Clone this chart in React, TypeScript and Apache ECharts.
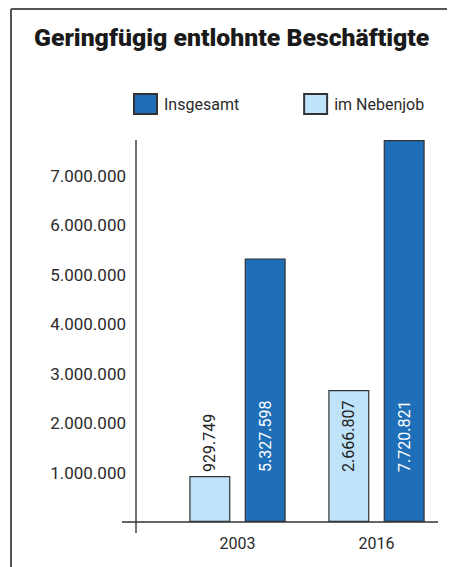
import React, { useEffect, useRef } from "react";
import * as echarts from "echarts";

const categories = ["2003", "2016"];
const nebenjobValues = [929749, 2666807];
const insgesamtValues = [5327598, 7720821];
const seriesNames = ["Insgesamt", "im Nebenjob"];
const titleText = "Geringfügig entlohnte Beschäftigte";

const fmt = (v: number) => String(Math.round(v)).replace(/\B(?=(\d{3})+(?!\d))/g, ".");

export default function App() {
  const ref = useRef<HTMLDivElement>(null);
  useEffect(() => {
    if (!ref.current) return;
    const chart = echarts.init(ref.current, null, { renderer: "svg" });
    const font = "Roboto";
    const barLabel = (color: string) => ({
      show: true,
      position: "insideBottom",
      distance: 50,
      rotate: 90,
      align: "left",
      verticalAlign: "middle",
      color,
      fontSize: 16,
      fontFamily: font,
      formatter: (p: any) => fmt(p.value),
    });
    chart.setOption({
      animation: false,
      title: {
        text: titleText,
        left: 34,
        top: 25,
        padding: 0,
        textStyle: { fontSize: 24.8, fontWeight: 900, fontFamily: font, color: "#1a1a1a" },
      },
      legend: {
        data: seriesNames,
        left: 133,
        top: 93,
        padding: 0,
        itemWidth: 23,
        itemHeight: 20,
        itemGap: 64,
        icon: "rect",
        textStyle: { fontSize: 16, fontFamily: font, color: "#2b2b2b", padding: [0, 0, 0, 2] },
      },
      grid: { left: 168, right: 3, top: 140, bottom: 45 },
      xAxis: {
        type: "category",
        data: categories,
        axisLine: { show: false },
        axisTick: { show: false },
        axisLabel: { margin: 13, fontSize: 16, fontFamily: font, color: "#2b2b2b" },
      },
      yAxis: {
        type: "value",
        min: 0,
        max: "dataMax",
        interval: 1000000,
        offset: 32,
        axisLine: { show: false },
        axisTick: { show: false },
        splitLine: { show: false },
        axisLabel: {
          margin: 10,
          showMinLabel: false,
          showMaxLabel: false,
          fontSize: 17,
          fontFamily: font,
          color: "#2b2b2b",
          formatter: (v: number) => fmt(v),
        },
      },
      series: [
        {
          name: "im Nebenjob",
          type: "bar",
          data: nebenjobValues,
          barWidth: 41,
          barGap: "35%",
          itemStyle: { color: "#bfe3f8", borderColor: "#333", borderWidth: 1.2 },
          label: barLabel("#222"),
        },
        {
          name: "Insgesamt",
          type: "bar",
          data: insgesamtValues,
          barWidth: 41,
          itemStyle: { color: "#1f6fb8", borderColor: "#333", borderWidth: 1.2 },
          label: barLabel("#ffffff"),
        },
      ],
      graphic: [
        { type: "line", shape: { x1: 11, y1: 9, x2: 447, y2: 9 }, style: { stroke: "#555", lineWidth: 2 } },
        { type: "line", shape: { x1: 11, y1: 9, x2: 11, y2: 567 }, style: { stroke: "#555", lineWidth: 2 } },
        { type: "line", shape: { x1: 136, y1: 140, x2: 136, y2: 533 }, style: { stroke: "#444", lineWidth: 1.5 } },
        { type: "line", shape: { x1: 122, y1: 522, x2: 438, y2: 522 }, style: { stroke: "#333", lineWidth: 1.5 } },
      ],
    });
    return () => chart.dispose();
  }, []);
  return (
    <div
      ref={ref}
      style={{ position: "fixed", left: 0, top: 0, width: 449, height: 567, background: "#fff" }}
    />
  );
}
